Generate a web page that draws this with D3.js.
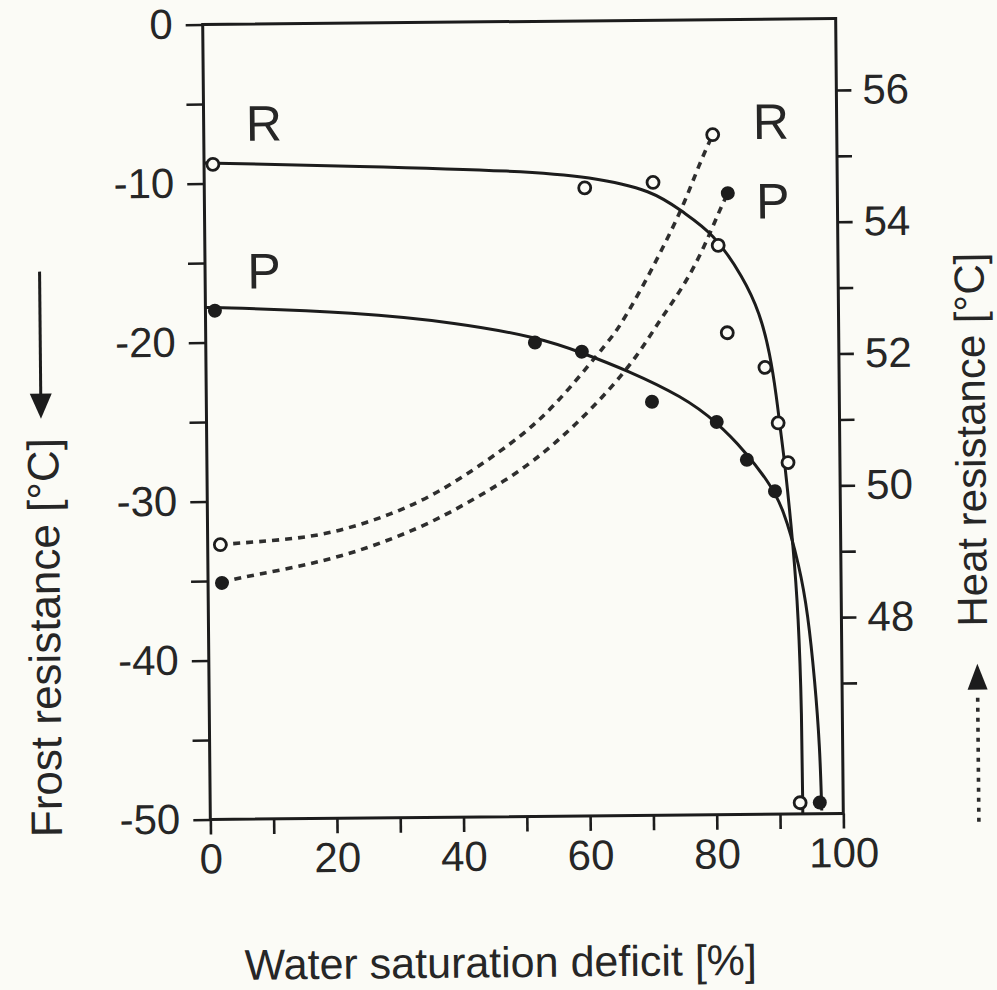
<!DOCTYPE html>
<html>
<head>
<meta charset="utf-8">
<script src="https://cdn.jsdelivr.net/npm/d3@7"></script>
<style>
  html, body { margin: 0; padding: 0; background: #fbfbf6; }
  svg { display: block; }
  text { font-family: "Liberation Sans", Arial, Helvetica, sans-serif; fill: #262626; }
</style>
</head>
<body>
<svg id="chart" width="997" height="990"></svg>
<script>
// ---------- data ----------
// Frost resistance, measured points (left axis, °C)
const rFrostX = [1.4, 60.1, 70.9, 81.1, 82.4, 88.3, 90.3, 91.8, 93.2];
const rFrostY = [-8.8, -10.5, -10.2, -14.2, -19.7, -21.9, -25.4, -27.9, -49.3];
const pFrostX = [1.5, 52.0, 59.4, 70.4, 80.6, 85.3, 89.7, 96.3];
const pFrostY = [-18.0, -20.2, -20.8, -24.0, -25.3, -27.7, -29.7, -49.3];

// Frost resistance, fitted curves (solid)
const rFrostFitX = [0, 24.2, 50.4, 60.9, 70.9, 75.6, 80.3, 85.0, 87.6, 89.1, 90.1, 90.6, 91.3, 92.5, 93.2, 93.6, 93.6];
const rFrostFitY = [-8.7, -9.0, -9.4, -9.8, -10.7, -12.1, -13.4, -16.2, -18.5, -21.0, -23.8, -25.7, -27.9, -33.2, -37.4, -43.7, -50.0];
const pFrostFitX = [0, 2.8, 23.9, 39.7, 52.8, 59.6, 66.5, 75.3, 80.6, 85.3, 88.5, 91.0, 93.5, 94.7, 95.7, 96.4, 96.6];
const pFrostFitY = [-17.8, -17.8, -18.2, -18.9, -19.9, -20.9, -22.0, -23.7, -25.3, -27.3, -29.0, -30.7, -34.5, -37.4, -41.6, -45.8, -49.8];

// Heat resistance, measured points (right axis, °C)
const rHeatX = [2.0, 80.4];
const rHeatY = [49.19, 55.34];
const pHeatX = [2.2, 82.7];
const pHeatY = [48.61, 54.45];

// Heat resistance, fitted curves (dashed)
const rHeatFitX = [2.0, 4.6, 11.4, 18.2, 25.2, 31.5, 37.9, 46.8, 52.2, 57.0, 63.8, 65.4, 69.1, 72.4, 75.6, 78.3, 80.4];
const rHeatFitY = [49.19, 49.21, 49.25, 49.32, 49.50, 49.72, 50.02, 50.59, 50.99, 51.46, 52.24, 52.44, 53.04, 53.64, 54.25, 54.91, 55.34];
const pHeatFitX = [2.2, 4.6, 11.9, 18.8, 25.3, 31.5, 37.85, 47.4, 53.2, 58.2, 63.3, 68.1, 71.8, 75.5, 78.7, 81.4, 82.7];
const pHeatFitY = [48.61, 48.68, 48.80, 48.94, 49.12, 49.34, 49.61, 50.13, 50.53, 50.95, 51.44, 51.98, 52.54, 53.03, 53.59, 54.20, 54.45];

// Series labels (in left-axis data coordinates)
const seriesLabels = ["R", "P", "R", "P"];
const seriesLabelX = [9.5, 9.3, 89.6, 89.8];
const seriesLabelY = [-6.2, -15.5, -6.4, -11.4];

// Axis ticks
const xTicks = [0, 10, 20, 30, 40, 50, 60, 70, 80, 90, 100];
const xTickLabels = [0, 20, 40, 60, 80, 100];
const yLeftTicks = [0, -5, -10, -15, -20, -25, -30, -35, -40, -45, -50];
const yLeftTickLabels = [0, -10, -20, -30, -40, -50];
const yRightTicks = [47, 48, 49, 50, 51, 52, 53, 54, 55, 56];
const yRightTickLabels = [48, 50, 52, 54, 56];

const xTitle = "Water saturation deficit [%]";
const yLeftTitle = "Frost resistance [°C]";
const yRightTitle = "Heat resistance [°C]";

// ---------- layout ----------
const plot = { left: 206.5, right: 839.5, top: 21.5, bottom: 816.5 };
const ink = "#1c1c1c";

const svg = d3.select("#chart");
svg.append("rect").attr("width", 997).attr("height", 990).attr("fill", "#fbfbf6");
// slight tilt of the scanned original
const root = svg.append("g").attr("transform", "rotate(-0.55, 523, 419)");

const x = d3.scaleLinear().domain([0, 100]).range([plot.left, plot.right]);
const yL = d3.scaleLinear().domain([0, -50]).range([plot.top, plot.bottom]);
const yR = d3.scaleLinear().domain([56, 48]).range([93, 620.2]);

// ---------- axes ----------
const fs = 42;
const xAxis = root.append("g")
  .attr("transform", `translate(0,${plot.bottom})`)
  .call(d3.axisBottom(x).tickValues(xTicks).tickSize(15).tickPadding(9)
    .tickFormat(d => xTickLabels.includes(d) ? String(d) : ""));
const yAxisL = root.append("g")
  .attr("transform", `translate(${plot.left},0)`)
  .call(d3.axisLeft(yL).tickValues(yLeftTicks).tickSize(17).tickPadding(13)
    .tickFormat(d => yLeftTickLabels.includes(d) ? String(d) : ""));
const yAxisR = root.append("g")
  .attr("transform", `translate(${plot.right},0)`)
  .call(d3.axisRight(yR).tickValues(yRightTicks).tickSize(15).tickPadding(11)
    .tickFormat(d => yRightTickLabels.includes(d) ? String(d) : ""));

[xAxis, yAxisL, yAxisR].forEach(a => {
  a.select(".domain").remove();
  a.selectAll(".tick line").attr("stroke", ink).attr("stroke-width", 2.6);
  a.selectAll(".tick text").attr("font-size", fs).attr("fill", "#262626")
    .style("font-family", "'Liberation Sans', Arial, sans-serif");
});

// frame
root.append("rect")
  .attr("x", plot.left).attr("y", plot.top)
  .attr("width", plot.right - plot.left).attr("height", plot.bottom - plot.top)
  .attr("fill", "none").attr("stroke", ink).attr("stroke-width", 3);

// ---------- curves ----------
const lineL = d3.line().x(d => x(d[0])).y(d => yL(d[1])).curve(d3.curveBasis);
const lineR = d3.line().x(d => x(d[0])).y(d => yR(d[1])).curve(d3.curveBasis);
const zip = (a, b) => a.map((v, i) => [v, b[i]]);

root.append("path").datum(zip(rHeatFitX, rHeatFitY)).attr("d", lineR)
  .attr("fill", "none").attr("stroke", "#2e2e2e").attr("stroke-width", 3.6).attr("stroke-dasharray", "7,6");
root.append("path").datum(zip(pHeatFitX, pHeatFitY)).attr("d", lineR)
  .attr("fill", "none").attr("stroke", "#2e2e2e").attr("stroke-width", 3.6).attr("stroke-dasharray", "7,6");

root.append("path").datum(zip(rFrostFitX, rFrostFitY)).attr("d", lineL)
  .attr("fill", "none").attr("stroke", ink).attr("stroke-width", 3);
root.append("path").datum(zip(pFrostFitX, pFrostFitY)).attr("d", lineL)
  .attr("fill", "none").attr("stroke", ink).attr("stroke-width", 3);

// ---------- markers ----------
function openPts(xs, ys, ys_scale) {
  root.append("g").selectAll("circle").data(zip(xs, ys)).join("circle")
    .attr("cx", d => x(d[0])).attr("cy", d => ys_scale(d[1])).attr("r", 6)
    .attr("fill", "#fbfbf6").attr("stroke", ink).attr("stroke-width", 2.8);
}
function filledPts(xs, ys, ys_scale) {
  root.append("g").selectAll("circle").data(zip(xs, ys)).join("circle")
    .attr("cx", d => x(d[0])).attr("cy", d => ys_scale(d[1])).attr("r", 7)
    .attr("fill", ink);
}
openPts(rFrostX, rFrostY, yL);
filledPts(pFrostX, pFrostY, yL);
openPts(rHeatX, rHeatY, yR);
filledPts(pHeatX, pHeatY, yR);

// ---------- series labels ----------
root.append("g").selectAll("text").data(seriesLabels).join("text")
  .attr("x", (d, i) => x(seriesLabelX[i])).attr("y", (d, i) => yL(seriesLabelY[i]) + 18)
  .attr("text-anchor", "middle").attr("font-size", 50).text(d => d);

// ---------- titles ----------
root.append("text").attr("x", 495.6).attr("y", 977).attr("text-anchor", "middle")
  .attr("font-size", 43).text(xTitle);
root.append("text").attr("transform", "translate(58,633) rotate(-90)").attr("text-anchor", "middle")
  .attr("font-size", 44).text(yLeftTitle);
root.append("text").attr("transform", "translate(985,444) rotate(-90)").attr("text-anchor", "middle")
  .attr("font-size", 42).text(yRightTitle);

// ---------- arrows ----------
root.append("line").attr("x1", 41).attr("x2", 41).attr("y1", 267).attr("y2", 392)
  .attr("stroke", ink).attr("stroke-width", 3);
root.append("path").attr("d", "M30,389 L52,389 L41,414 Z").attr("fill", ink);

root.append("line").attr("x1", 975).attr("x2", 975).attr("y1", 826).attr("y2", 696)
  .attr("stroke", "#2b2b2b").attr("stroke-width", 3.6).attr("stroke-dasharray", "4,6");
root.append("path").attr("d", "M965,694 L985,694 L975,668 Z").attr("fill", ink);
</script>
</body>
</html>
